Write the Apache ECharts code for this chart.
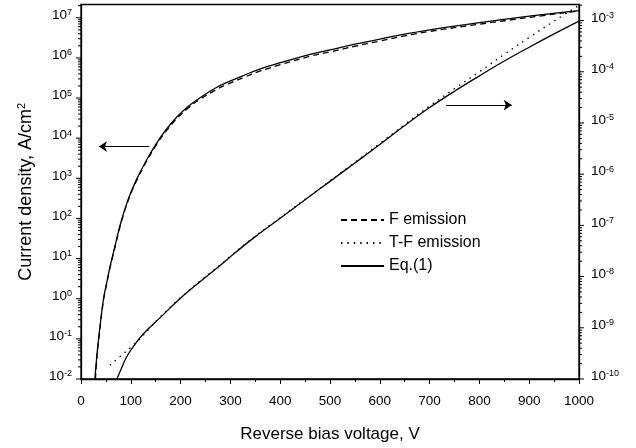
<!DOCTYPE html>
<html><head><meta charset="utf-8">
<script src="https://cdn.jsdelivr.net/npm/echarts@6/dist/echarts.min.js"></script>
<style>html,body{margin:0;padding:0;background:#fff}#c{width:636px;height:448px}</style>
</head><body><div id="c"></div>
<script>
// ---- data ----
const xTickLabels = ['0','100','200','300','400','500','600','700','800','900','1000'];
const leftTickExps = [-2,-1,0,1,2,3,4,5,6,7];
const rightTickExps = [-10,-9,-8,-7,-6,-5,-4,-3];
const leftMin = 1e-2, leftMax = 2.14e7;
const rightMin = 1e-10, rightMax = 2.06e-3;

// F emission (left axis), dashed
const fV = [29,32,37,45,52,58,68,80,94,110,130,150,170,192,215,239,270,293,330,359,400,460,500,550,600,650,700,800,900,1000];
const fJ = [1.00e-2,3.55e-2,1.38e-1,8.91e-1,2.51,5.75,18.6,74.1,263,794,2450,6460,1.45e4,3.02e4,5.62e4,9.33e4,1.58e5,2.19e5,3.39e5,4.68e5,6.76e5,1.10e6,1.41e6,1.95e6,2.63e6,3.55e6,4.57e6,6.92e6,1.02e7,1.48e7];
// Eq.(1) (left axis), solid
const eqLV = [28,32,37,45,52,58,68,80,94,110,130,150,170,192,215,239,270,293,330,359,400,460,500,550,600,650,700,800,900,1000];
const eqLJ = [1.00e-2,3.98e-2,1.51e-1,9.55e-1,2.63,6.03,20.0,79.4,282,851,2630,6920,1.58e4,3.31e4,6.17e4,1.02e5,1.78e5,2.45e5,3.80e5,5.25e5,7.59e5,1.23e6,1.58e6,2.19e6,2.95e6,3.89e6,5.01e6,7.59e6,1.10e7,1.51e7];
// T-F emission (right axis), dotted
const tfV = [58,80,100,118,135,159,199,239,280,300,350,400,450,500,550,600,650,700,750,800,850,900,950,1000];
const tfJ = [1.86e-10,2.82e-10,4.17e-10,6.03e-10,9.12e-10,1.62e-9,3.80e-9,8.13e-9,1.70e-8,2.51e-8,6.17e-8,1.41e-7,3.24e-7,7.41e-7,1.70e-6,3.98e-6,9.33e-6,2.14e-5,4.68e-5,1.00e-4,2.19e-4,4.68e-4,9.77e-4,2.00e-3];
// Eq.(1) (right axis), solid
const eqRV = [72,80,92,110,125,159,199,239,280,300,350,400,450,500,550,600,650,700,750,800,850,900,950,1000];
const eqRJ = [1.00e-10,1.51e-10,2.75e-10,5.01e-10,7.59e-10,1.58e-9,3.72e-9,7.94e-9,1.66e-8,2.45e-8,6.03e-8,1.38e-7,3.16e-7,7.24e-7,1.66e-6,3.80e-6,8.91e-6,2.00e-5,4.17e-5,8.32e-5,1.62e-4,3.02e-4,5.50e-4,9.77e-4];
// arrows: [V start, V end, J]
const leftArrow = [137, 36, 6170];
const rightArrow = [733, 865, 2.24e-5];

// ---- build ----
const FONT = '"Liberation Sans", Arial, sans-serif';
const zip = (a, b) => a.map((v, i) => [v, b[i]]);
function logTicks(exps, max) {
  const out = [];
  exps.forEach(e => { for (let k = 1; k <= 9; k++) { const v = k * Math.pow(10, e); if (v <= max * 1.0001) out.push(v); } });
  return out;
}
function powLabel(v) {
  const e = Math.log10(v), r = Math.round(e);
  if (Math.abs(e - r) > 1e-6) return '';
  return '{b|10}{s|' + r + '}';
}
const richSup = {
  b: {fontSize: 13.5, fontFamily: FONT, color: '#000', lineHeight: 14, verticalAlign: 'bottom'},
  s: {fontSize: 9, fontFamily: FONT, color: '#000', lineHeight: 10, verticalAlign: 'top', padding: [0, 0, 8, 0]}
};
function tickRender(dir) {
  return function (params, api) {
    const v = api.value(1);
    const p = api.coord([api.value(0), v]);
    const e = Math.log10(v);
    const major = Math.abs(e - Math.round(e)) < 1e-6;
    const len = (major ? 5 : 3) * dir;
    return {type: 'line', shape: {x1: p[0], y1: p[1], x2: p[0] + len, y2: p[1]},
      style: {stroke: '#000', lineWidth: 1}};
  };
}
const lineBase = {type: 'line', symbol: 'none', smooth: 0.4, animation: false,
  itemStyle: {color: '#000'}};

const option = {
  animation: false,
  backgroundColor: '#fff',
  grid: {left: 81, right: 57, top: 4.5, bottom: 65, show: true, borderColor: '#000', borderWidth: 1.3, containLabel: false},
  legend: {
    data: ['F emission', 'T-F emission', 'Eq.(1)'], orient: 'vertical', left: 340, top: 212, padding: 0,
    itemWidth: 43, itemHeight: 14, itemGap: 7,
    itemStyle: {opacity: 0},
    textStyle: {fontSize: 16, fontFamily: FONT, color: '#000', lineHeight: 16}
  },
  xAxis: {
    type: 'value', min: 0, max: 1000, interval: 100,
    axisLine: {lineStyle: {color: '#000', width: 1.3}},
    axisTick: {inside: false, length: 5, lineStyle: {color: '#000', width: 1}},
    minorTick: {show: true, splitNumber: 2, length: 3, lineStyle: {color: '#000', width: 1}},
    splitLine: {show: false},
    axisLabel: {margin: 15, fontSize: 13.5, fontFamily: FONT, color: '#000',
      formatter: v => xTickLabels[Math.round(v / 100)] ?? ''},
    name: 'Reverse bias voltage, V', nameLocation: 'middle', nameGap: 47,
    nameTextStyle: {fontSize: 17, fontFamily: FONT, color: '#000'}
  },
  yAxis: [{
    type: 'log', logBase: 10, min: leftMin, max: leftMax, splitNumber: 10,
    axisLine: {show: true, lineStyle: {color: '#000', width: 1.3}},
    axisTick: {show: false}, splitLine: {show: false},
    axisLabel: {margin: 9, formatter: powLabel, rich: richSup, padding: [0, 0, 5, 0]},
    name: 'Current density, A/cm{s|2}', nameLocation: 'middle', nameGap: 45,
    nameTextStyle: {fontSize: 18, fontFamily: FONT, color: '#000',
      rich: {s: {fontSize: 11, fontFamily: FONT, color: '#000', verticalAlign: 'top', padding: [0, 0, 9, 0]}}}
  }, {
    type: 'log', logBase: 10, min: rightMin, max: rightMax, splitNumber: 10, position: 'right',
    axisLine: {show: true, lineStyle: {color: '#000', width: 1.3}},
    axisTick: {show: false}, splitLine: {show: false},
    axisLabel: {margin: 12, formatter: powLabel, rich: richSup, padding: [0, 0, 5, 0]}
  }],
  series: [
    Object.assign({}, lineBase, {name: 'F emission', yAxisIndex: 0, data: zip(fV, fJ),
      lineStyle: {color: '#000', width: 1.3, type: [6, 4]}}),
    Object.assign({}, lineBase, {name: 'T-F emission', yAxisIndex: 1, data: zip(tfV, tfJ),
      lineStyle: {color: '#000', width: 1.4, type: [1.4, 5]}}),
    Object.assign({}, lineBase, {name: 'Eq.(1)', yAxisIndex: 0, data: zip(eqLV, eqLJ),
      lineStyle: {color: '#000', width: 1.3},
      markLine: {silent: true, symbol: ['none', 'arrow'], symbolSize: 8, animation: false,
        label: {show: false}, lineStyle: {color: '#000', width: 1.2, type: 'solid'},
        data: [[{coord: [leftArrow[0], leftArrow[2]]}, {coord: [leftArrow[1], leftArrow[2]]}]]}}),
    Object.assign({}, lineBase, {name: 'Eq.(1)', yAxisIndex: 1, data: zip(eqRV, eqRJ),
      lineStyle: {color: '#000', width: 1.3},
      markLine: {silent: true, symbol: ['none', 'arrow'], symbolSize: 8, animation: false,
        label: {show: false}, lineStyle: {color: '#000', width: 1.2, type: 'solid'},
        data: [[{coord: [rightArrow[0], rightArrow[2]]}, {coord: [rightArrow[1], rightArrow[2]]}]]}}),
    {type: 'custom', name: 'ticksL', yAxisIndex: 0, clip: false, silent: true, animation: false,
      data: logTicks(leftTickExps, leftMax).map(v => [0, v]), renderItem: tickRender(-1)},
    {type: 'custom', name: 'ticksR', yAxisIndex: 1, clip: false, silent: true, animation: false,
      data: logTicks(rightTickExps, rightMax).map(v => [1000, v]), renderItem: tickRender(1)}
  ]
};
const chart = echarts.init(document.getElementById('c'), null, {renderer: 'canvas'});
chart.setOption(option);
</script></body></html>
